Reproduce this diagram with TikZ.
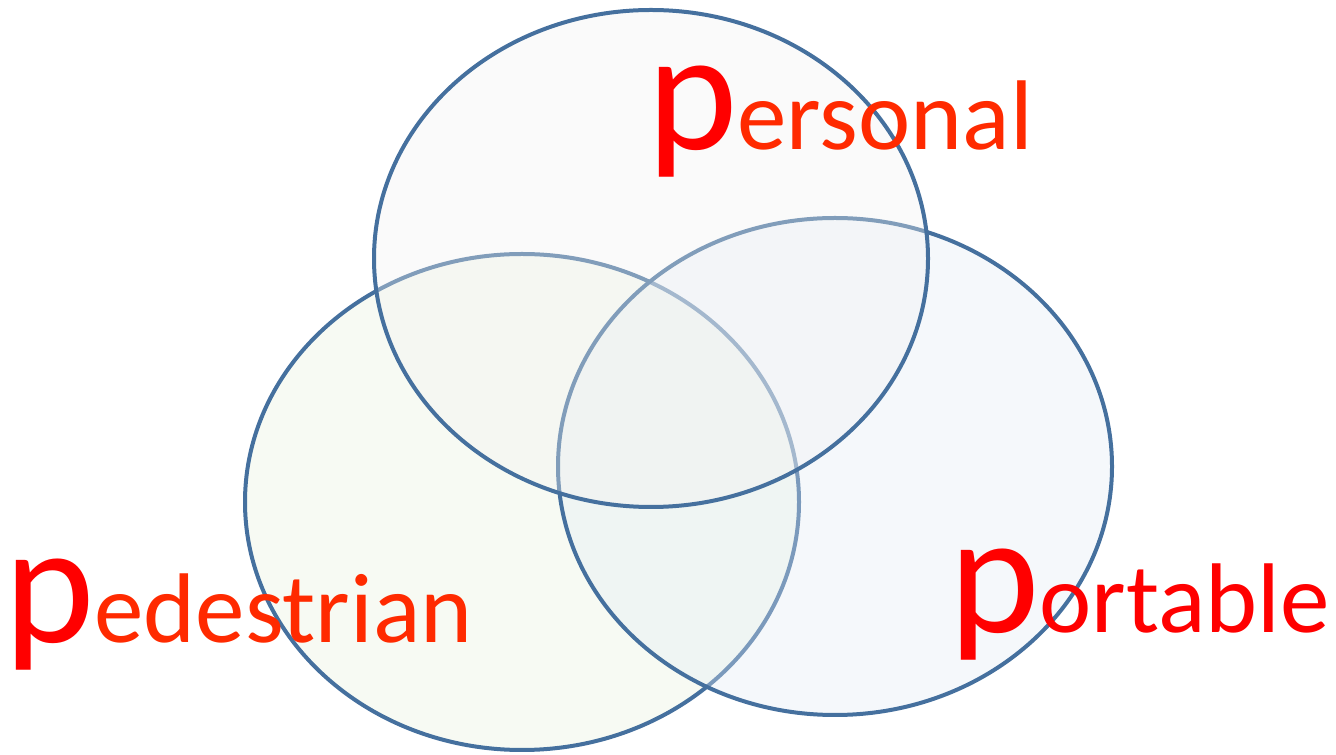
\documentclass[tikz,border=0pt]{standalone}
\usepackage{fontspec}
\setmainfont{Carlito}
\usepackage{xcolor}
\usepackage{tikz}
\definecolor{vennline}{HTML}{45709E}
\definecolor{vennleft}{HTML}{E8F1DD}
\definecolor{vennright}{HTML}{E2EBF4}
\definecolor{venntop}{HTML}{F1F1F1}
\definecolor{bigp}{HTML}{FF0000}
\definecolor{restred}{HTML}{FF2A00}
\newcommand{\bigletter}[1]{{\fontsize{172}{172}\selectfont\color{bigp}#1}}

\begin{document}
\begin{tikzpicture}[x=1pt,y=1pt]
  \useasboundingbox (0,0) rectangle (1336,755);
  \filldraw[fill=vennleft,fill opacity=0.35,draw=vennline,line width=4pt] (522,253) ellipse[x radius=277,y radius=248];
  \filldraw[fill=vennright,fill opacity=0.35,draw=vennline,line width=4pt] (835,288.5) ellipse[x radius=277,y radius=248.5];
  \filldraw[fill=venntop,fill opacity=0.35,draw=vennline,line width=4pt] (651,496.5) ellipse[x radius=277,y radius=248.5];
  \node[anchor=base west,inner sep=0pt] (personal) at (647,605)
    {\bigletter{p}{\fontsize{99}{99}\selectfont\color{restred}ersonal}};
  \node[anchor=base west,inner sep=0pt] (pedestrian) at (4,112)
    {\bigletter{p}{\fontsize{99}{99}\selectfont\color{restred}edestrian}};
  \node[anchor=base west,inner sep=0pt] (portable) at (949,122)
    {\bigletter{p}{\fontsize{99}{99}\selectfont\color{bigp}ortable}};
\end{tikzpicture}
\end{document}
